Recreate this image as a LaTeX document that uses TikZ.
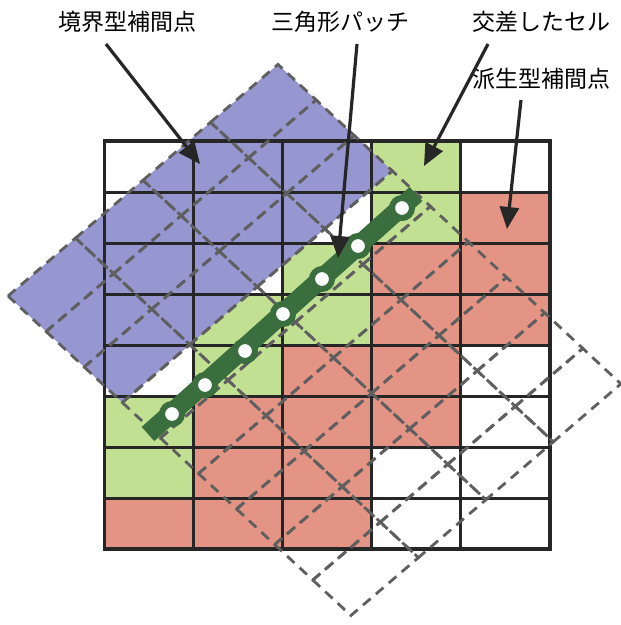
\documentclass[tikz,border=0pt]{standalone}
\usepackage{fontspec}
\newfontfamily\jp{Noto Sans CJK JP}
\usetikzlibrary{arrows.meta}
\definecolor{cblue}{RGB}{150,150,208}
\definecolor{cgreen}{RGB}{194,224,146}
\definecolor{cred}{RGB}{228,148,132}
\definecolor{cband}{RGB}{58,110,62}
\definecolor{cgrid}{RGB}{38,38,38}
\definecolor{cdash}{RGB}{95,95,95}
\tikzset{
  cellgrid/.style={draw=cgrid, line width=3pt},
  meshd/.style={draw=cdash, line width=2.8pt, dash pattern=on 10pt off 7pt},
  lab/.style={font=\jp\fontsize{23}{26}\selectfont, inner sep=0pt},
  callout/.style={draw=cgrid, line width=3.2pt, -{Triangle[length=22pt,width=19pt]}},
  patchdot/.style={circle, fill=white, draw=cband, line width=6pt, minimum size=20pt, inner sep=0pt},
}
\begin{document}
\begin{tikzpicture}[x=1pt,y=-1pt]
\useasboundingbox (0,0) rectangle (621,625);
\fill[white] (0,0) rectangle (621,625);

% axis-aligned cell fills
\begin{scope}[shift={(104.5pt,-141pt)}, x=89.1pt, y=-51pt]
  \foreach \c/\r in {3/0,3/1,2/2,1/3,2/3,1/4,0/5,0/6}
    \fill[cgreen] (\c,\r) rectangle (\c+1,\r+1);
  \foreach \c/\r in {4/1,3/2,4/2,3/3,4/3,2/4,3/4,1/5,2/5,3/5,1/6,2/6,0/7,1/7,2/7}
    \fill[cred] (\c,\r) rectangle (\c+1,\r+1);
\end{scope}

% rotated mesh: blue part
\begin{scope}[shift={(8pt,-296pt)}, x={(67.5pt,57.9pt)}, y={(38.1pt,-35.5pt)}]
  \fill[cblue] (0,0) -- (4,0) -- (4,3) -- (0,3) -- cycle;
\end{scope}

% axis-aligned grid
\begin{scope}[shift={(104.5pt,-141pt)}, x=89.1pt, y=-51pt]
  \foreach \c in {1,...,4} \draw[cellgrid] (\c,0) -- (\c,8);
  \foreach \r in {1,...,7} \draw[cellgrid] (0,\r) -- (5,\r);
  \draw[cellgrid, line width=3.4pt] (0,0) rectangle (5,8);
\end{scope}

% rotated mesh: dashed cells
\begin{scope}[shift={(8pt,-296pt)}, x={(67.5pt,57.9pt)}, y={(38.1pt,-35.5pt)}]
  \foreach \i in {0,...,3}
    \foreach \j in {0,...,8}
      \draw[meshd] (\i,\j) -- (\i+1,\j) -- (\i+1,\j+1) -- (\i,\j+1) -- cycle;
\end{scope}

% triangle patch band
\coordinate (b0) at (148,434);
\coordinate (b1) at (416,194);
\draw[cband, line width=19pt] (b0) -- (b1);
\node[patchdot] (d1) at (172,414) {};
\node[patchdot] (d2) at (205,385) {};
\node[patchdot] (d3) at (245,351) {};
\node[patchdot] (d4) at (283,314) {};
\node[patchdot] (d5) at (322,279) {};
\node[patchdot] (d6) at (358,246) {};
\node[patchdot] (d7) at (402,208) {};

% labels
\node[lab] (l1) at (128,22) {境界型補間点};
\node[lab] (l2) at (340,22) {三角形パッチ};
\node[lab] (l3) at (541,22) {交差したセル};
\node[lab] (l4) at (541,79) {派生型補間点};

% arrows
\coordinate (s1) at (106,44);  \coordinate (t1) at (200,164);
\coordinate (s2) at (357,44);  \coordinate (t2) at (338,258);
\coordinate (s3) at (488,44);  \coordinate (t3) at (424,166);
\coordinate (s4) at (521,100); \coordinate (t4) at (507,229);
\draw[callout] (s1) -- (t1);
\draw[callout] (s2) -- (t2);
\draw[callout] (s3) -- (t3);
\draw[callout] (s4) -- (t4);
\end{tikzpicture}
\end{document}
